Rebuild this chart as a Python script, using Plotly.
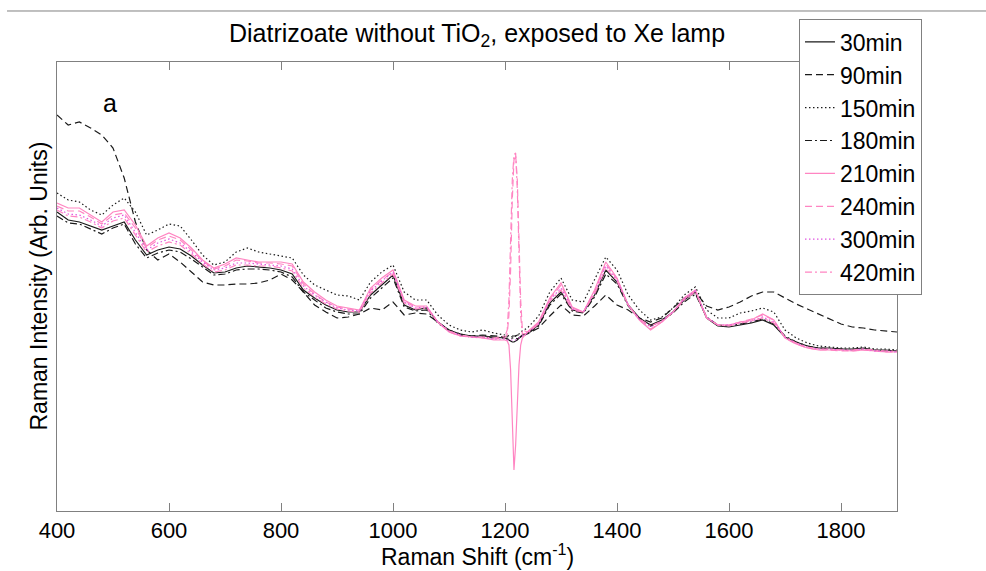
import plotly.graph_objects as go

# Raman shift sampling (cm^-1)
wavenumber = (list(range(400, 1200, 20))
              + [1200, 1204, 1207, 1210, 1213, 1216, 1219, 1222, 1225, 1228, 1231]
              + list(range(1240, 1901, 20)))

# Intensities (arbitrary units)
i_30 = [388, 380, 378, 374, 370, 374, 378, 360, 345, 350,
        353, 351, 344, 335, 327, 328, 332, 334, 333, 332,
        330, 326, 310, 302, 295, 290, 288, 288, 305, 315,
        325, 295, 290, 292, 278, 270, 266, 264, 264, 263,
        262, 261, 260, 259, 258, 258, 259, 260, 262, 264, 265,
        267, 275, 297, 308, 290, 288, 305, 330, 318,
        295, 282, 275, 280, 288, 300, 308, 282, 274, 273,
        275, 277, 280, 275, 263, 258, 254, 252, 252, 251,
        251, 252, 250, 250, 249]

i_90 = [485, 475, 478, 472, 465, 452, 422, 378, 350, 340,
        346, 338, 328, 318, 315, 315, 316, 316, 317, 320,
        326, 320, 308, 295, 288, 282, 283, 286, 292, 290,
        298, 285, 287, 286, 278, 270, 266, 264, 265, 264,
        263, 263, 264, 264, 264, 264, 264, 265, 265, 265, 265,
        266, 272, 284, 295, 285, 284, 294, 305, 295,
        290, 282, 278, 282, 292, 302, 308, 294, 290, 293,
        298, 304, 308, 308, 302, 296, 291, 286, 281, 276,
        273, 272, 270, 269, 268]

i_150 = [407, 400, 398, 390, 385, 395, 402, 388, 365, 370,
         376, 374, 360, 345, 335, 338, 348, 352, 348, 346,
         344, 342, 325, 315, 310, 305, 304, 300, 318, 328,
         335, 308, 300, 300, 285, 275, 270, 268, 270, 267,
         265, 265, 264, 264, 263, 263, 264, 265, 266, 268, 269,
         272, 284, 308, 322, 300, 298, 320, 343, 330,
         305, 290, 280, 283, 292, 305, 313, 290, 282, 282,
         287, 289, 292, 288, 270, 262, 257, 254, 253, 252,
         252, 253, 251, 251, 250]

i_180 = [384, 377, 376, 371, 366, 372, 376, 356, 342, 347,
         350, 348, 341, 333, 325, 326, 330, 331, 331, 330,
         328, 323, 308, 300, 292, 288, 286, 286, 302, 312,
         322, 293, 289, 290, 277, 269, 265, 263, 263, 262,
         262, 261, 261, 261, 262, 262, 262, 261, 262, 263, 264,
         266, 274, 295, 306, 289, 287, 303, 326, 316,
         294, 281, 274, 279, 287, 298, 306, 283, 275, 274,
         276, 278, 281, 276, 264, 258, 254, 252, 251, 251,
         250, 251, 250, 249, 249]

i_210 = [397, 392, 392, 385, 378, 388, 390, 375, 354, 362,
         367, 362, 352, 340, 332, 336, 342, 340, 338, 338,
         338, 336, 318, 308, 300, 294, 292, 290, 312, 322,
         330, 300, 294, 294, 278, 268, 264, 263, 262, 260,
         260, 259, 255, 230, 175, 130, 155, 200, 235, 255, 262,
         268, 278, 302, 317, 293, 288, 310, 338, 322,
         295, 280, 270, 278, 288, 302, 310, 282, 275, 275,
         278, 280, 286, 280, 262, 256, 252, 250, 250, 250,
         249, 250, 249, 248, 248]

i_240 = [394, 389, 389, 383, 376, 385, 387, 372, 352, 360,
         364, 360, 350, 339, 331, 334, 340, 339, 337, 337,
         336, 334, 316, 306, 298, 293, 291, 289, 310, 320,
         328, 299, 293, 293, 278, 268, 264, 263, 262, 261,
         262, 266, 285, 330, 400, 440, 445, 420, 360, 300, 270,
         268, 277, 301, 315, 292, 288, 309, 336, 321,
         295, 280, 271, 278, 288, 301, 309, 282, 275, 275,
         278, 281, 285, 280, 262, 256, 252, 250, 250, 249,
         249, 250, 249, 248, 248]

i_300 = [392, 386, 385, 380, 374, 382, 385, 368, 350, 357,
         361, 357, 348, 338, 330, 332, 337, 337, 336, 335,
         334, 331, 314, 305, 298, 292, 290, 289, 309, 319,
         328, 298, 292, 293, 278, 269, 265, 263, 263, 261,
         261, 260, 260, 260, 260, 260, 260, 261, 262, 263, 264,
         267, 276, 300, 312, 291, 288, 307, 334, 320,
         295, 281, 273, 279, 288, 301, 309, 283, 275, 275,
         277, 279, 283, 278, 263, 257, 253, 251, 251, 250,
         250, 251, 249, 249, 248]

i_420 = [390, 384, 383, 378, 372, 379, 382, 365, 348, 354,
         358, 355, 346, 336, 328, 330, 335, 335, 334, 334,
         332, 329, 312, 303, 296, 291, 289, 288, 307, 317,
         326, 297, 291, 292, 278, 269, 265, 263, 263, 262,
         264, 270, 300, 360, 420, 445, 447, 410, 340, 285, 266,
         267, 276, 299, 310, 290, 288, 306, 332, 319,
         295, 281, 274, 279, 288, 300, 308, 283, 275, 274,
         277, 279, 282, 277, 263, 257, 253, 251, 251, 250,
         250, 251, 250, 249, 249]

series_names = ["30min", "90min", "150min", "180min", "210min", "240min", "300min", "420min"]
series_values = [i_30, i_90, i_150, i_180, i_210, i_240, i_300, i_420]
x_tick_values = [400, 600, 800, 1000, 1200, 1400, 1600, 1800]

BLACK = "#1a1a1a"
PINK = "#ff85c2"
MAGENTA = "#e055e0"
DASH = "7px,4px"
DOT = "1.5px,2.5px"
DASHDOT = "7px,3px,2px,3px"
line_styles = [
    (BLACK, "solid"), (BLACK, DASH), (BLACK, DOT), (BLACK, DASHDOT),
    (PINK, "solid"), (PINK, DASH), (MAGENTA, DOT), (PINK, DASHDOT),
]

FONT = "Arial, Liberation Sans, sans-serif"

fig = go.Figure()
for name, vals, (color, dash) in zip(series_names, series_values, line_styles):
    fig.add_trace(go.Scatter(
        x=wavenumber, y=vals, mode="lines", name=name,
        line=dict(color=color, dash=dash, width=1.2),
    ))

fig.update_layout(
    width=986, height=571,
    margin=dict(l=57, r=89, t=62, b=60, autoexpand=False),
    paper_bgcolor="white", plot_bgcolor="white",
    showlegend=True,
    legend=dict(
        x=0.8833, y=1.095, xanchor="left", yanchor="top",
        bgcolor="white", bordercolor="#808080", borderwidth=1,
        font=dict(family=FONT, size=23, color="black"),
        tracegroupgap=0, itemwidth=30,
    ),
    xaxis=dict(
        range=[400, 1900], tickvals=x_tick_values,
        ticks="inside", ticklen=8, tickcolor="#808080",
        showline=True, linecolor="#808080", linewidth=1, mirror="ticks",
        showgrid=False, zeroline=False,
        tickfont=dict(family=FONT, size=22, color="black"),
    ),
    yaxis=dict(
        range=[89, 538], showticklabels=False, ticks="",
        showline=True, linecolor="#808080", linewidth=1, mirror=True,
        showgrid=False, zeroline=False,
    ),
    annotations=[
        dict(text="Diatrizoate without TiO<sub>2</sub>, exposed to Xe lamp",
             xref="paper", yref="paper", x=0.5, y=1.06, xanchor="center", yanchor="middle",
             showarrow=False, font=dict(family=FONT, size=25, color="black")),
        dict(text="a", xref="paper", yref="paper", x=0.063, y=0.9087,
             xanchor="center", yanchor="middle", showarrow=False,
             font=dict(family=FONT, size=25, color="black")),
        dict(text="Raman Shift (cm<sup>-1</sup>)", xref="paper", yref="paper",
             x=0.5, y=-0.098, xanchor="center", yanchor="middle", showarrow=False,
             font=dict(family=FONT, size=23, color="black")),
        dict(text="Raman Intensity (Arb. Units)", xref="paper", yref="paper",
             x=-0.0226, y=0.5, xanchor="center", yanchor="middle", textangle=-90,
             showarrow=False, font=dict(family=FONT, size=23, color="black")),
    ],
    shapes=[
        dict(type="line", xref="paper", yref="paper",
             x0=-0.0595, x1=1.106, y0=1.1136, y1=1.1136,
             line=dict(color="#808080", width=1)),
    ],
)

fig.write_html("out.html", config={"displayModeBar": False},
               post_script="document.body.style.margin='0px';")
